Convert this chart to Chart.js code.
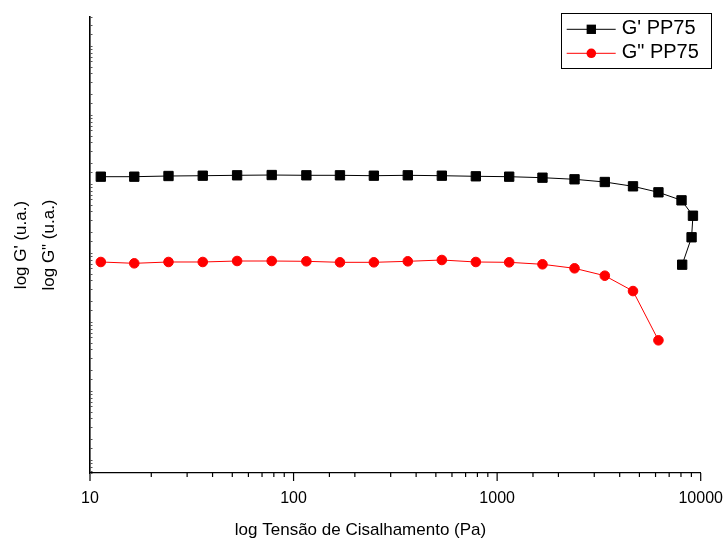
<!DOCTYPE html>
<html>
<head>
<meta charset="utf-8">
<script src="https://cdn.jsdelivr.net/npm/chart.js@4.4.1/dist/chart.umd.min.js"></script>
<style>
html, body { margin:0; padding:0; background:#fff; }
</style>
</head>
<body>
<canvas id="myChart" width="725" height="540"></canvas>
<script>
const myChartObject = document.getElementById('myChart');

// shear stress (Pa), G' has 4 extra points at the end (curve bends back)
const stress = [11.3, 16.5, 24.3, 35.8, 52.8, 78.1, 115.6, 169, 248, 364, 535, 786,
                1146, 1670, 2400, 3380, 4650, 6200, 8050, 9160, 9020, 8110];
const gPrime = [1.276e5, 1.276e5, 1.306e5, 1.319e5, 1.337e5, 1.349e5, 1.337e5, 1.337e5, 1.319e5, 1.337e5, 1.319e5, 1.293e5,
                1.276e5, 1.234e5, 1.170e5, 1.069e5, 9.26e4, 7.58e4, 5.80e4, 3.47e4, 1.69e4, 6.77e3];
const gDoublePrime = [7.41e3, 7.09e3, 7.41e3, 7.41e3, 7.66e3, 7.66e3, 7.58e3, 7.33e3, 7.33e3, 7.58e3, 7.92e3, 7.41e3,
                      7.33e3, 6.86e3, 6.00e3, 4.69e3, 2.81e3, 5.43e2];
const xTickLabels = [10, 100, 1000, 10000];
const seriesNames = ["G' PP75", 'G" PP75'];
const xTitle = 'log Tensão de Cisalhamento (Pa)';

const toPoints = (ys) => ys.map((y, i) => ({x: stress[i], y: y}));

const FONT = 'Liberation Sans, Arial, sans-serif';

// inward/outward tick marks like the original software
const tickMarks = {
  id: 'tickMarks',
  afterDraw(chart) {
    const ctx = chart.ctx;
    const xs = chart.scales.x, ys = chart.scales.y;
    const a = chart.chartArea;
    ctx.save();
    ctx.strokeStyle = '#000';
    ctx.lineWidth = 1.2;
    xs.ticks.forEach(t => {
      const px = xs.getPixelForValue(t.value);
      if (px < a.left - 0.5 || px > a.right + 0.5) return;
      const e = Math.log10(t.value);
      const major = Math.abs(e - Math.round(e)) < 1e-6;
      ctx.beginPath();
      ctx.moveTo(px, a.bottom);
      ctx.lineTo(px, a.bottom + (major ? 8 : 4));
      ctx.stroke();
    });
    ctx.strokeStyle = '#555';
    ctx.lineWidth = 1;
    ys.ticks.forEach(t => {
      const py = ys.getPixelForValue(t.value);
      if (py < a.top || py > a.bottom) return;
      ctx.beginPath();
      ctx.moveTo(a.left, Math.round(py) + 0.5);
      ctx.lineTo(a.left + 2.5, Math.round(py) + 0.5);
      ctx.stroke();
    });
    // x axis title is centred on the page, not on the plot
    ctx.fillStyle = '#000';
    ctx.font = '17px ' + FONT;
    ctx.textAlign = 'center';
    ctx.textBaseline = 'middle';
    ctx.fillText(xTitle, chart.width / 2 - 2, 530);
    ctx.restore();
  }
};

// legend with line - marker - line samples in a framed box
const legendBox = {
  id: 'legendBox',
  afterDraw(chart) {
    const ctx = chart.ctx;
    const a = chart.chartArea;
    const bx = a.right - 140, by = a.top - 4.5, bw = 150, bh = 55;
    ctx.save();
    ctx.strokeStyle = '#000';
    ctx.lineWidth = 1;
    ctx.strokeRect(Math.round(bx) + 0.5, Math.round(by) + 0.5, bw, bh);
    chart.data.datasets.forEach((ds, i) => {
      const cy = by + 16.8 + i * 24;
      ctx.strokeStyle = ds.borderColor;
      ctx.lineWidth = 1;
      ctx.beginPath();
      ctx.moveTo(bx + 6, cy);
      ctx.lineTo(bx + 55, cy);
      ctx.stroke();
      ctx.fillStyle = ds.backgroundColor;
      const mx = bx + 30.6;
      if (ds.pointStyle === 'rect') {
        const s = ds.pointRadius * Math.SQRT1_2;
        ctx.fillRect(mx - s, cy - s, 2 * s, 2 * s);
      } else {
        ctx.beginPath();
        ctx.arc(mx, cy, ds.pointRadius, 0, Math.PI * 2);
        ctx.fill();
      }
      ctx.fillStyle = '#000';
      ctx.font = '20px ' + FONT;
      ctx.textBaseline = 'middle';
      ctx.textAlign = 'left';
      ctx.fillText(ds.label, bx + 61, cy - 0.5);
    });
    ctx.restore();
  }
};

const cfg = {
  type: 'scatter',
  data: {
    datasets: [{
      label: seriesNames[0],
      data: toPoints(gPrime),
      showLine: true,
      borderColor: '#000000',
      backgroundColor: '#000000',
      borderWidth: 1,
      pointStyle: 'rect',
      pointRadius: 6.6,
      pointBorderWidth: 1,
      pointBorderColor: '#000000',
      pointBackgroundColor: '#000000'
    }, {
      label: seriesNames[1],
      data: toPoints(gDoublePrime),
      showLine: true,
      borderColor: '#ff0000',
      backgroundColor: '#ff0000',
      borderWidth: 1,
      pointStyle: 'circle',
      pointRadius: 4.8,
      pointBorderWidth: 1,
      pointBorderColor: '#ff0000',
      pointBackgroundColor: '#ff0000'
    }]
  },
  options: {
    responsive: false,
    animation: false,
    layout: { padding: { top: 17, right: 24.3, left: 0, bottom: 0 } },
    plugins: {
      legend: { display: false },
      tooltip: { enabled: false }
    },
    scales: {
      x: {
        type: 'logarithmic',
        min: 10,
        max: 10000,
        grid: { display: false },
        border: { display: true, color: '#000', width: 1.2 },
        ticks: {
          autoSkip: false,
          maxRotation: 0,
          padding: 8,
          color: '#000',
          font: { family: FONT, size: 16 },
          callback: (v) => xTickLabels.includes(v) ? String(v) : ''
        },
        title: { display: false },
        afterFit: (s) => { s.height = 67; s.paddingLeft = 0; s.paddingRight = 0; }
      },
      y: {
        type: 'logarithmic',
        min: 6.49,
        max: 2.63e7,
        grid: { display: false },
        border: { display: true, color: '#000', width: 1.6 },
        ticks: { display: false },
        title: {
          display: true,
          text: ["log G' (u.a.)", 'log G" (u.a.)'],
          color: '#000',
          font: { family: FONT, size: 17, lineHeight: 28 / 17 },
          padding: { top: 7, bottom: 0 }
        },
        afterFit: (s) => { s.width = 90; s.paddingTop = 0; s.paddingBottom = 0; }
      }
    }
  },
  plugins: [tickMarks, legendBox]
};

let chart = new Chart(myChartObject, cfg);
</script>
</body>
</html>
